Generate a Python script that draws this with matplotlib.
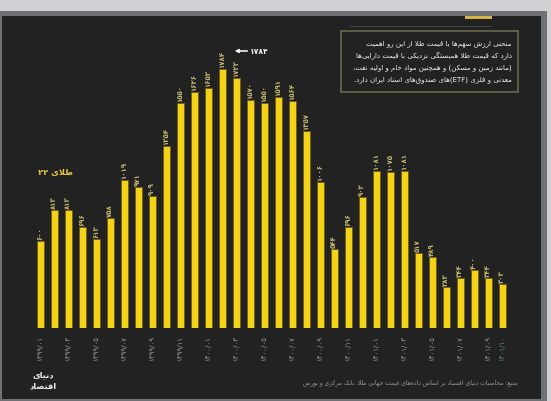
import re
import matplotlib
matplotlib.use("Agg")
import matplotlib.pyplot as plt
from matplotlib.patches import Rectangle

# ---------------- data ----------------
values = [600, 813, 813, 696, 613, 758, 1019, 971, 909, 1254, 1550, 1626,
          1653, 1784, 1722, 1570, 1550, 1591, 1564, 1357, 1006, 544, 696,
          902, 1081, 1075, 1081, 517, 489, 282, 344, 400, 344, 303]
tick_positions = [0, 2, 4, 6, 8, 10, 12, 14, 16, 18, 20, 22, 24, 26, 28, 30, 32, 33]
tick_labels = ["۱۳۹۹/۰۱", "۱۳۹۹/۰۳", "۱۳۹۹/۰۵", "۱۳۹۹/۰۷", "۱۳۹۹/۰۹", "۱۳۹۹/۱۱",
               "۱۴۰۰/۰۱", "۱۴۰۰/۰۳", "۱۴۰۰/۰۵", "۱۴۰۰/۰۷", "۱۴۰۰/۰۹", "۱۴۰۰/۱۱",
               "۱۴۰۱/۰۱", "۱۴۰۱/۰۳", "۱۴۰۱/۰۵", "۱۴۰۱/۰۷", "۱۴۰۱/۰۹", "۱۴۰۱/۱۰"]
peak_label = "۱۷۸۴"
series_label = "طلای ۲۲"
box_lines = ["منحنی ارزش سهم‌ها با قیمت طلا از این رو اهمیت",
             "دارد که قیمت طلا همبستگی نزدیکی با قیمت دارایی‌ها",
             "(مانند زمین و مسکن) و همچنین مواد خام و اولیه نفت،",
             "معدنی و فلزی (ETF)های صندوق‌های اسناد ایران دارد."]
footer = "منبع: محاسبات دنیای اقتصاد بر اساس داده‌های قیمت جهانی طلا، بانک مرکزی و بورس"
logo_lines = ["دنیای", "اقتصاد"]

# ---------------- simple Persian shaping ----------------
F = {
    'ا': ('ﺍ', 'ﺎ', None, None), 'آ': ('ﺁ', 'ﺂ', None, None), 'أ': ('ﺃ', 'ﺄ', None, None),
    'ب': ('ﺏ', 'ﺐ', 'ﺑ', 'ﺒ'), 'پ': ('ﭖ', 'ﭗ', 'ﭘ', 'ﭙ'), 'ت': ('ﺕ', 'ﺖ', 'ﺗ', 'ﺘ'),
    'ث': ('ﺙ', 'ﺚ', 'ﺛ', 'ﺜ'), 'ج': ('ﺝ', 'ﺞ', 'ﺟ', 'ﺠ'), 'چ': ('ﭺ', 'ﭻ', 'ﭼ', 'ﭽ'),
    'ح': ('ﺡ', 'ﺢ', 'ﺣ', 'ﺤ'), 'خ': ('ﺥ', 'ﺦ', 'ﺧ', 'ﺨ'), 'د': ('ﺩ', 'ﺪ', None, None),
    'ذ': ('ﺫ', 'ﺬ', None, None), 'ر': ('ﺭ', 'ﺮ', None, None), 'ز': ('ﺯ', 'ﺰ', None, None),
    'ژ': ('ﮊ', 'ﮋ', None, None), 'س': ('ﺱ', 'ﺲ', 'ﺳ', 'ﺴ'), 'ش': ('ﺵ', 'ﺶ', 'ﺷ', 'ﺸ'),
    'ص': ('ﺹ', 'ﺺ', 'ﺻ', 'ﺼ'), 'ض': ('ﺽ', 'ﺾ', 'ﺿ', 'ﻀ'), 'ط': ('ﻁ', 'ﻂ', 'ﻃ', 'ﻄ'),
    'ظ': ('ﻅ', 'ﻆ', 'ﻇ', 'ﻈ'), 'ع': ('ﻉ', 'ﻊ', 'ﻋ', 'ﻌ'), 'غ': ('ﻍ', 'ﻎ', 'ﻏ', 'ﻐ'),
    'ف': ('ﻑ', 'ﻒ', 'ﻓ', 'ﻔ'), 'ق': ('ﻕ', 'ﻖ', 'ﻗ', 'ﻘ'), 'ک': ('ﮎ', 'ﮏ', 'ﮐ', 'ﮑ'),
    'گ': ('ﮒ', 'ﮓ', 'ﮔ', 'ﮕ'), 'ل': ('ﻝ', 'ﻞ', 'ﻟ', 'ﻠ'), 'م': ('ﻡ', 'ﻢ', 'ﻣ', 'ﻤ'),
    'ن': ('ﻥ', 'ﻦ', 'ﻧ', 'ﻨ'), 'و': ('ﻭ', 'ﻮ', None, None), 'ه': ('ﻩ', 'ﻪ', 'ﻫ', 'ﻬ'),
    'ی': ('ﯼ', 'ﯽ', 'ﯾ', 'ﯿ'), 'ئ': ('ﺉ', 'ﺊ', 'ﺋ', 'ﺌ'),
}


def shape(s):
    out = []
    i = 0
    n = len(s)
    while i < n:
        ch = s[i]
        if ch not in F:
            if ch != '\u200c':
                out.append(ch)
            i += 1
            continue
        prev = s[i - 1] if i > 0 else None
        jp = prev in F and F[prev][2] is not None
        if ch == 'ل' and i + 1 < n and s[i + 1] in ('ا', 'آ', 'أ'):
            out.append('ﻼ' if jp else 'ﻻ')
            i += 2
            continue
        nxt = s[i + 1] if i + 1 < n else None
        iso, fin, ini, med = F[ch]
        jn = (nxt in F) and ini is not None
        if jp and jn:
            out.append(med)
        elif jp:
            out.append(fin)
        elif jn:
            out.append(ini)
        else:
            out.append(iso)
        i += 1
    return ''.join(out)


LTR = r'[0-9۰-۹A-Za-z/]'


def fa(s):
    sh = shape(s)
    parts = re.findall(LTR + r'+|[^0-9۰-۹A-Za-z/]+', sh)
    res = []
    for p in reversed(parts):
        if re.match(LTR, p):
            res.append(p)
        else:
            res.append(p[::-1].translate(str.maketrans('()', ')(')))
    return ''.join(res)


def fa_digits(v):
    return str(v).translate(str.maketrans('0123456789', '۰۱۲۳۴۵۶۷۸۹'))


# ---------------- figure ----------------
W, H = 551, 402
plt.rcParams['font.family'] = ['DejaVu Sans']
fig = plt.figure(figsize=(W / 100, H / 100), dpi=100, facecolor='#cfd0d2')


def fx(px):
    return px / W


def fy(py):
    return 1 - py / H


# frame and dark panel
fig.patches.append(Rectangle((fx(0), fy(402)), fx(547), 390 / H, transform=fig.transFigure,
                             facecolor='#6f7274', edgecolor='none', zorder=-10))
fig.patches.append(Rectangle((fx(2), fy(400)), fx(539), 383 / H, transform=fig.transFigure,
                             facecolor='#222222', edgecolor='none', zorder=-9))
# gold accent at top right
fig.patches.append(Rectangle((fx(465), fy(20)), fx(27), 3 / H, transform=fig.transFigure,
                             facecolor='#d9b548', edgecolor='none', zorder=-8))
# text box
fig.patches.append(Rectangle((fx(341), fy(93)), fx(177), 61 / H, transform=fig.transFigure,
                             facecolor='none', edgecolor='#6a6a4e', linewidth=1.2, zorder=-8))
fig.lines.append(plt.Line2D([fx(350), fx(490)], [fy(27), fy(27)], transform=fig.transFigure,
                            color='#3c4250', linewidth=0.8, zorder=-8))
for k, line in enumerate(box_lines):
    fig.text(fx(512), fy(44 + k * 12), fa(line), ha='right', va='center',
             fontsize=5.0, color='#f2f2f2')

# axes with bars
base_px, top_px = 329, 40
scale = 1784 / 259.0
ax = fig.add_axes([fx(26), fy(base_px), fx(490), (base_px - top_px) / H])
ax.set_facecolor('none')
x = list(range(len(values)))
ax.bar(x, values, width=0.5, color='#f4d218', edgecolor='#6f5f12', linewidth=0.6, zorder=2)
ax.set_xlim(-1, 34)
ax.set_ylim(0, (base_px - top_px) * scale)
for i, v in enumerate(values):
    ax.text(i, v + 12, fa_digits(v), rotation=90, ha='center', va='bottom',
            fontsize=5, color='#c4b870', fontweight='bold', zorder=3)
for s in ax.spines.values():
    s.set_visible(False)
ax.set_yticks([])
ax.set_xticks(tick_positions)
ax.set_xticklabels(tick_labels, rotation=90, fontsize=5, color='#9a9a9a')
ax.tick_params(axis='x', length=0, pad=5)
ax.get_xticklabels()[-1].set_color('#5f8f7a')

# peak annotation
ax.annotate(fa(peak_label), xy=(13.9, (329 - 52) * scale), xytext=(15.0, (329 - 52) * scale),
            ha='left', va='center', fontsize=5.5, color='#f0f0f0', fontweight='bold',
            arrowprops=dict(arrowstyle='-|>', color='#f0f0f0', lw=1.2,
                            shrinkA=0, shrinkB=0, mutation_scale=5))
# series label
ax.text(1.1, (329 - 173) * scale, fa(series_label), ha='center', va='center',
        fontsize=6, color='#e8c832', fontweight='bold')

# footer
fig.text(fx(518), fy(383), fa(footer), ha='right', va='center', fontsize=4.3, color='#9a9a9a')
fig.text(fx(43), fy(375), fa(logo_lines[0]), ha='center', va='center', fontsize=6,
         color='#eeeeee', fontweight='bold')
fig.text(fx(43), fy(386), fa(logo_lines[1]), ha='center', va='center', fontsize=6,
         color='#eeeeee', fontweight='bold')

fig.savefig('out.png', dpi=100, facecolor=fig.get_facecolor())
